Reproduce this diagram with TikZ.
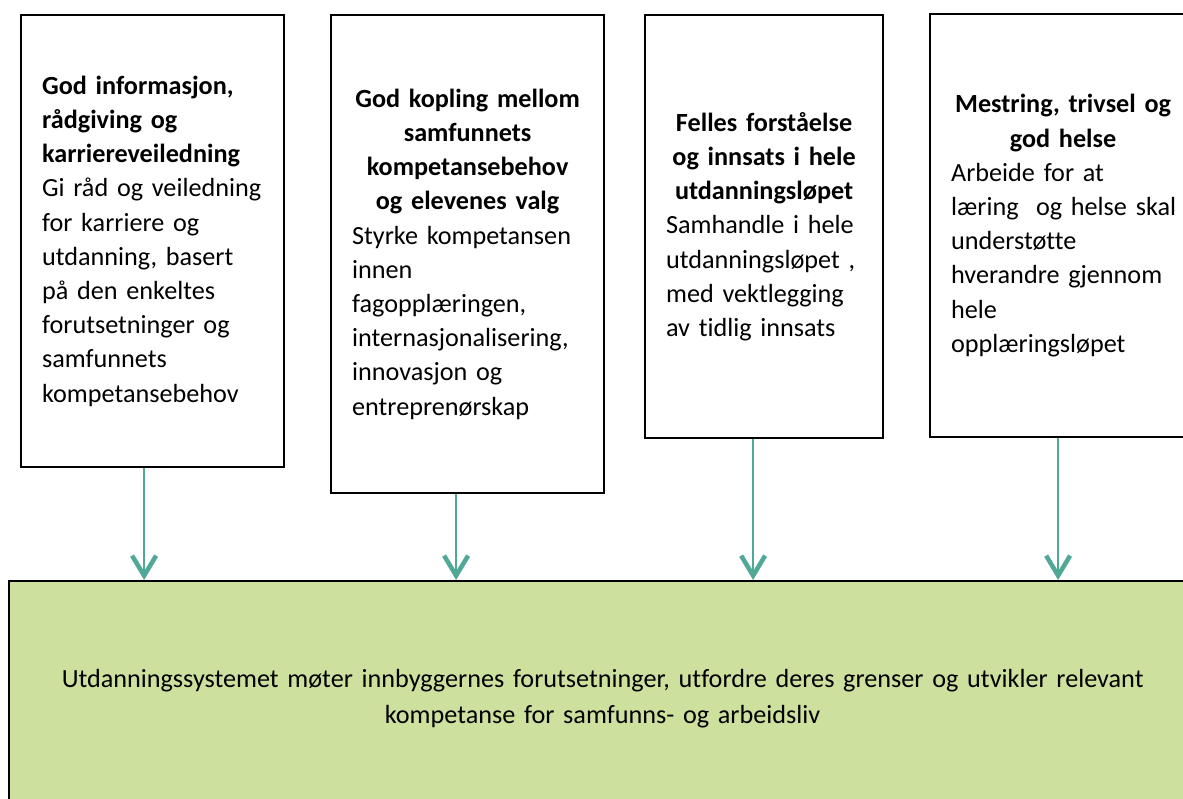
\documentclass[tikz,border=0pt]{standalone}
\usepackage{fontspec}
\setmainfont{Carlito}[Ligatures=NoCommon]
\usetikzlibrary{arrows.meta}
\setlength\parindent{0pt}
\hyphenpenalty=10000
\exhyphenpenalty=10000
\hfuzz=50pt
\definecolor{tealarr}{RGB}{80,168,150}
\definecolor{greenfill}{RGB}{206,224,158}
\begin{document}
\begin{tikzpicture}[x=1pt,y=-1pt,
  box/.style={draw=black,line width=2.2pt,fill=white,anchor=north west,
    inner xsep=21pt,inner ysep=0pt,align=left,
    font=\fontsize{26.2}{34.2}\selectfont},
  goal/.style={draw=black,line width=2.2pt,fill=greenfill,anchor=north west,
    inner sep=0pt,align=center,text width=1187pt,minimum height=236pt,
    font=\fontsize{26.2}{36}\selectfont},
  arr/.style={draw=tealarr,line width=2.2pt,
    -{Straight Barb[length=20pt,width=24pt,line width=4.5pt]}}]
\useasboundingbox (0,0) rectangle (1183,798);

\node[box,text width=221pt,minimum height=452pt] (b1) at (20,14) {%
{\bfseries God~informasjon,\\ rådgiving~og\\ karriereveiledning\par}
Gi~råd~og~veiledning\\ for~karriere~og\\ utdanning,~basert\\ på~den~enkeltes\\ forutsetninger~og\\ samfunnets\\ kompetansebehov};

\node[box,text width=231pt,minimum height=478pt] (b2) at (330,14) {%
{\centering\bfseries God~kopling~mellom\\ samfunnets\\ kompetansebehov\\ og~elevenes~valg\par}
Styrke~kompetansen\\ innen\\ fagopplæringen,\\ internasjonalisering,\\ innovasjon~og\\ entreprenørskap};

\node[box,text width=196pt,minimum height=423pt] (b3) at (644,14) {%
{\centering\bfseries Felles~forståelse\\ og~innsats~i~hele\\ utdanningsløpet\par}
Samhandle~i~hele\\ utdanningsløpet~,\\ med~vektlegging\\ av~tidlig~innsats};

\node[box,text width=224pt,minimum height=423pt] (b4) at (929,13) {%
{\centering\bfseries Mestring,~trivsel~og\\ god~helse\par}
Arbeide~for~at\\ læring~~og~helse~skal\\ understøtte\\ hverandre~gjennom\\ hele\\ opplæringsløpet};

\node[goal] (g) at (8,580) {Utdanningssystemet møter innbyggernes forutsetninger, utfordre deres grenser og utvikler relevant\\ kompetanse for samfunns- og arbeidsliv};

\draw[arr] ([xshift=-8.5pt]b1.south) -- ([xshift=-8.5pt]b1.south |- g.north);
\draw[arr] ([xshift=-11.5pt]b2.south) -- ([xshift=-11.5pt]b2.south |- g.north);
\draw[arr] ([xshift=-11pt]b3.south) -- ([xshift=-11pt]b3.south |- g.north);
\draw[arr] ([xshift=-5pt]b4.south) -- ([xshift=-5pt]b4.south |- g.north);
\end{tikzpicture}
\end{document}
